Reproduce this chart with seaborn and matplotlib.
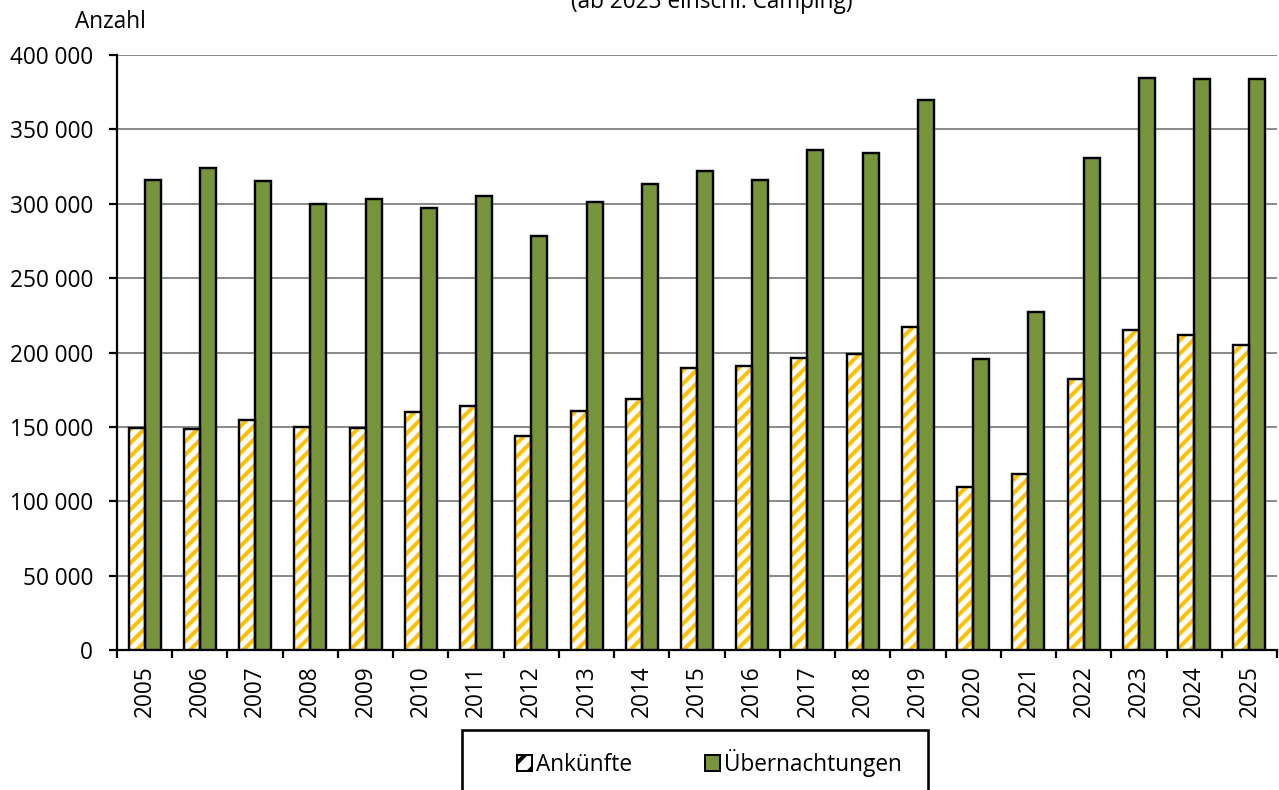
import numpy as np
import pandas as pd
import seaborn as sns
import matplotlib.pyplot as plt
from matplotlib.patches import Rectangle, Patch
from matplotlib.ticker import FuncFormatter, MultipleLocator

# Values
jahre = [str(j) for j in range(2005, 2026)]
ankuenfte = [149500, 148600, 154600, 150000, 149000, 160000, 164000, 144000, 160500, 168500,
             189500, 191000, 196000, 199000, 217000, 109500, 118000, 182000, 215000, 211800, 205000]
uebernachtungen = [316000, 324000, 315000, 300000, 303000, 297000, 305000, 278000, 301000, 313000,
                   322000, 316000, 336000, 334000, 370000, 195800, 227000, 330800, 384800, 383600, 384200]

serien = ["Ankünfte", "Übernachtungen"]
gruen = "#77933C"
gelb = "#FFC000"

DPI = 120
PX = 72 / DPI  # one pixel in points
W, H = 1279, 790

df = pd.DataFrame({
    "Jahr": jahre * 2,
    "Wert": ankuenfte + uebernachtungen,
    "Serie": [serien[0]] * len(jahre) + [serien[1]] * len(jahre),
})

sns.set_style("white")
plt.rcParams["font.family"] = ["Open Sans", "DejaVu Sans"]
plt.rcParams["text.color"] = "black"
plt.rcParams["xtick.color"] = "black"
plt.rcParams["ytick.color"] = "black"
plt.rcParams["hatch.linewidth"] = 4.0 * PX

fig = plt.figure(figsize=(W / DPI, H / DPI), dpi=DPI)
ax = fig.add_axes([117 / W, 1 - 650 / H, (1277 - 117) / W, (650 - 55) / H])

sns.barplot(data=df, x="Jahr", y="Wert", hue="Serie", order=jahre, hue_order=serien,
            palette=["white", gruen], width=0.58, gap=0, dodge=True, legend=False,
            edgecolor="black", linewidth=2.4 * PX, saturation=1, ax=ax, zorder=3)

# hatched Ankünfte bars: gold stripes, then black outline on top
for bar in ax.containers[0]:
    bar.set_hatch("///")
    bar.set_edgecolor(gelb)
    bar.set_linewidth(0)
    if hasattr(bar, "set_hatchcolor"):
        bar.set_hatchcolor(gelb)
    ax.add_patch(Rectangle(bar.get_xy(), bar.get_width(), bar.get_height(), fill=False,
                           edgecolor="black", linewidth=2.4 * PX, zorder=4))

ax.set_ylim(0, 400000)
ax.set_xlim(-0.5, len(jahre) - 0.5)
ax.yaxis.set_major_locator(MultipleLocator(50000))
ax.yaxis.set_major_formatter(FuncFormatter(lambda v, p: f"{int(v):,}".replace(",", " ")))
ax.grid(axis="y", color="#808080", linewidth=1.8 * PX, zorder=0)
ax.set_axisbelow(True)

for s in ["top", "right"]:
    ax.spines[s].set_visible(False)
for s in ["left", "bottom"]:
    ax.spines[s].set_color("black")
    ax.spines[s].set_linewidth(2.2 * PX)

ax.set_xlabel("")
ax.set_ylabel("")
schrift = 13.6
ax.tick_params(axis="y", length=8 * PX, width=2.2 * PX, labelsize=schrift,
               pad=16 * PX, direction="out", left=True)
ax.set_xticks(range(len(jahre)))
ax.set_xticklabels(jahre, rotation=90, va="top", ha="center")
ax.tick_params(axis="x", which="major", length=0, labelsize=schrift, pad=15 * PX)
ax.set_xticks(np.arange(-0.5, len(jahre)), minor=True)
ax.tick_params(axis="x", which="minor", length=8 * PX, width=2.2 * PX,
               direction="out", bottom=True)

fig.text(75 / W, 1 - 22 / H, "Anzahl", fontsize=schrift, ha="left", va="center")
fig.text(712 / W, 1 - 8 / H, "(ab 2023 einschl. Camping)", fontsize=schrift,
         ha="center", va="baseline")

# legend box, running off the bottom edge like in the original
fig.add_artist(Rectangle((462 / W, -0.05), (928 - 462) / W, 1 - 730 / H + 0.05,
                         transform=fig.transFigure, facecolor="white", edgecolor="black",
                         linewidth=2.6 * PX))
handles = [Patch(facecolor="white", edgecolor="black", hatch="//", linewidth=2 * PX),
           Patch(facecolor=gruen, edgecolor="black", linewidth=2 * PX)]
leg = fig.legend(handles, serien, loc="center left", bbox_to_anchor=(517 / W, 1 - 763 / H),
                 ncol=2, frameon=False, fontsize=schrift, handlelength=0.65,
                 handleheight=0.65, handletextpad=0.2, columnspacing=3.2, borderpad=0,
                 borderaxespad=0)

fig.savefig("out.png", dpi=DPI)
